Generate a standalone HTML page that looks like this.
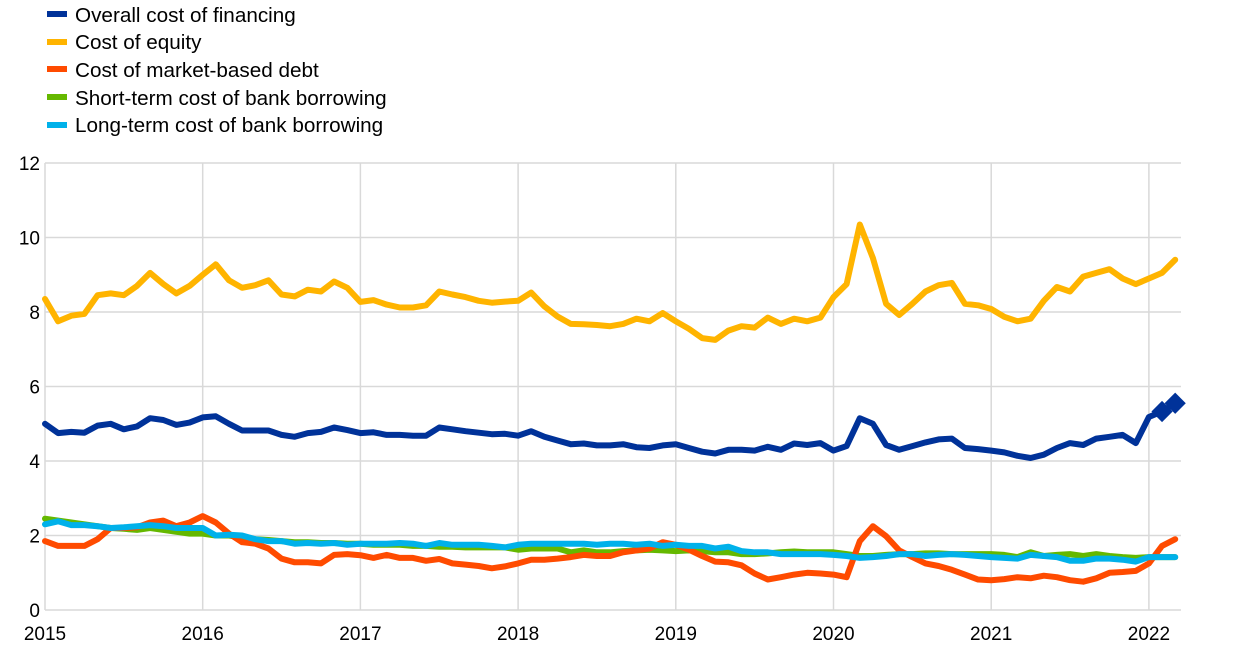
<!DOCTYPE html>
<html><head><meta charset="utf-8"><style>
body{margin:0;background:#fff;width:1240px;height:656px;overflow:hidden;font-family:"Liberation Sans",Arial,sans-serif}
svg text{font-family:"Liberation Sans",Arial,sans-serif}
</style></head><body>
<svg id="c" width="1240" height="656" xmlns="http://www.w3.org/2000/svg">
<g font-size="20.7" fill="#000">
<rect x="47" y="11" width="20" height="6" fill="#003299"/><text x="75" y="22">Overall cost of financing</text>
<rect x="47" y="39" width="20" height="6" fill="#ffb400"/><text x="75" y="49">Cost of equity</text>
<rect x="47" y="66" width="20" height="6" fill="#ff4b00"/><text x="75" y="77">Cost of market-based debt</text>
<rect x="47" y="94" width="20" height="6" fill="#65b800"/><text x="75" y="105">Short-term cost of bank borrowing</text>
<rect x="47" y="122" width="20" height="6" fill="#00b1ea"/><text x="75" y="132">Long-term cost of bank borrowing</text>
</g>
<g id="grid" stroke="#d9d9d9" stroke-width="1.5"></g>
<g id="lab" font-size="19" fill="#000"></g>
<g id="ser" fill="none" stroke-width="6" stroke-linejoin="round" stroke-linecap="round"></g>
</svg>
<script>
const X0=45,DX=157.7/12,Y0=610,DY=37.25;
const g=document.getElementById('grid'),lab=document.getElementById('lab'),ser=document.getElementById('ser');
const NS='http://www.w3.org/2000/svg';
function el(p,t,a,txt){const e=document.createElementNS(NS,t);for(const k in a)e.setAttribute(k,a[k]);if(txt!==undefined)e.textContent=txt;p.appendChild(e);return e;}
for(let v=0;v<=12;v+=2){const y=Y0-v*DY;el(g,'line',{x1:X0,x2:1181,y1:y,y2:y});el(lab,'text',{x:40,y:y+7,'text-anchor':'end'},v);}
for(let yr=0;yr<=7;yr++){const x=X0+yr*157.7;el(g,'line',{x1:x,x2:x,y1:163,y2:610});el(lab,'text',{x:x,y:640,'text-anchor':'middle'},2015+yr);}
const D={
'#65b800':[2.45,2.4,2.35,2.3,2.25,2.2,2.18,2.15,2.2,2.15,2.1,2.05,2.05,2.0,2.0,1.95,1.9,1.88,1.85,1.82,1.82,1.8,1.8,1.78,1.78,1.75,1.75,1.75,1.72,1.72,1.7,1.7,1.68,1.68,1.68,1.68,1.62,1.65,1.65,1.65,1.55,1.6,1.55,1.55,1.58,1.6,1.62,1.6,1.58,1.6,1.58,1.55,1.55,1.5,1.5,1.52,1.55,1.57,1.55,1.55,1.55,1.5,1.45,1.45,1.48,1.5,1.5,1.52,1.52,1.5,1.5,1.5,1.5,1.48,1.42,1.55,1.45,1.48,1.5,1.45,1.5,1.45,1.42,1.4,1.42,1.42,1.42],
'#ff4b00':[1.85,1.72,1.72,1.72,1.9,2.2,2.2,2.22,2.35,2.4,2.25,2.35,2.52,2.35,2.05,1.82,1.78,1.65,1.38,1.28,1.28,1.25,1.48,1.5,1.47,1.4,1.48,1.4,1.4,1.32,1.37,1.25,1.22,1.18,1.12,1.17,1.25,1.35,1.35,1.38,1.42,1.48,1.45,1.45,1.55,1.6,1.65,1.82,1.75,1.62,1.45,1.3,1.28,1.2,0.98,0.82,0.88,0.95,1.0,0.98,0.95,0.88,1.85,2.25,1.98,1.6,1.42,1.25,1.18,1.08,0.95,0.82,0.8,0.83,0.88,0.85,0.92,0.88,0.8,0.76,0.85,1.0,1.02,1.05,1.25,1.72,1.9],
'#00b1ea':[2.3,2.38,2.28,2.28,2.25,2.2,2.22,2.25,2.28,2.25,2.2,2.2,2.2,2.0,2.02,2.0,1.9,1.85,1.85,1.78,1.8,1.78,1.8,1.75,1.78,1.78,1.78,1.8,1.78,1.72,1.8,1.75,1.75,1.75,1.72,1.68,1.75,1.78,1.78,1.78,1.78,1.78,1.75,1.78,1.78,1.75,1.78,1.72,1.75,1.72,1.72,1.65,1.7,1.58,1.55,1.55,1.5,1.5,1.5,1.5,1.48,1.45,1.4,1.42,1.45,1.5,1.5,1.45,1.48,1.5,1.48,1.45,1.42,1.4,1.38,1.48,1.45,1.42,1.32,1.32,1.38,1.38,1.35,1.3,1.42,1.42,1.42],
'#ffb400':[8.35,7.75,7.9,7.95,8.45,8.5,8.45,8.7,9.05,8.75,8.5,8.7,9.0,9.28,8.85,8.65,8.72,8.85,8.47,8.42,8.6,8.55,8.82,8.65,8.27,8.32,8.2,8.12,8.12,8.18,8.55,8.47,8.4,8.3,8.25,8.28,8.3,8.52,8.15,7.88,7.68,7.67,7.65,7.62,7.68,7.82,7.75,7.97,7.75,7.55,7.3,7.25,7.5,7.62,7.58,7.85,7.68,7.82,7.75,7.85,8.4,8.75,10.35,9.45,8.22,7.92,8.22,8.55,8.72,8.78,8.22,8.18,8.08,7.87,7.75,7.82,8.3,8.67,8.55,8.95,9.05,9.15,8.9,8.75,8.9,9.05,9.4],
'#003299':[5.0,4.75,4.78,4.76,4.95,5.0,4.85,4.93,5.15,5.1,4.97,5.03,5.17,5.2,5.0,4.82,4.82,4.82,4.7,4.65,4.75,4.78,4.9,4.83,4.75,4.77,4.7,4.7,4.68,4.68,4.9,4.85,4.8,4.76,4.72,4.73,4.68,4.8,4.65,4.55,4.45,4.47,4.42,4.42,4.45,4.37,4.35,4.42,4.45,4.35,4.25,4.2,4.3,4.3,4.28,4.38,4.3,4.47,4.43,4.48,4.28,4.4,5.15,5.0,4.43,4.3,4.4,4.5,4.58,4.6,4.35,4.32,4.28,4.23,4.14,4.08,4.17,4.35,4.48,4.43,4.6,4.65,4.7,4.55,4.48,5.18,5.33,5.55]
};
D['#003299'].splice(83,1);
const order=['#65b800','#ff4b00','#00b1ea','#ffb400','#003299'];
for(const c of order){const d=D[c];const pts=d.map((v,i)=>(X0+i*DX).toFixed(1)+','+(Y0-v*DY).toFixed(1)).join(' ');el(ser,'polyline',{points:pts,stroke:c});}
const b=D['#003299'];
for(const i of [85,86]){const x=X0+i*DX,y=Y0-b[i]*DY;el(ser,'rect',{x:x-7.5,y:y-7.5,width:15,height:15,fill:'#003299',stroke:'none',transform:`rotate(45 ${x} ${y})`});}
</script>
</body></html>
